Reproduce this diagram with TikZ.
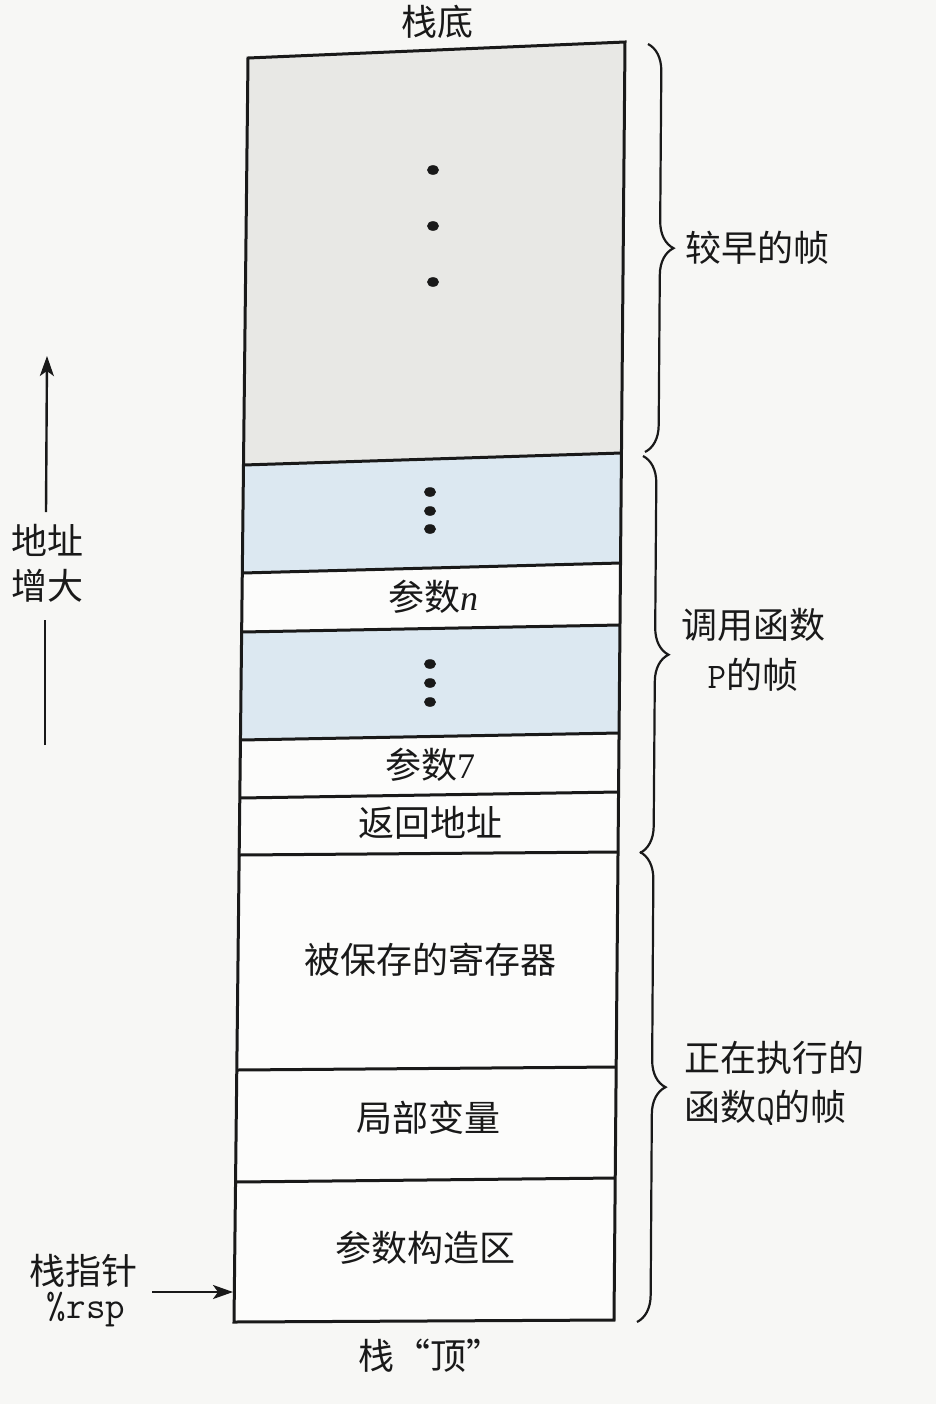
\documentclass[tikz,border=0pt]{standalone}
\usepackage{fontspec}
\setmainfont{Liberation Serif}
\newfontfamily\cjk{Noto Sans CJK SC}
\usetikzlibrary{decorations.pathreplacing,arrows.meta}
\definecolor{pagebg}{RGB}{247,247,245}
\definecolor{oldgray}{RGB}{232,232,229}
\definecolor{argblue}{RGB}{220,232,241}
\definecolor{cellwhite}{RGB}{252,252,251}
\definecolor{ink}{RGB}{25,25,25}
\begin{document}
\begin{tikzpicture}[x=0.5pt,y=-0.5pt,
  lbl/.style={font=\cjk\fontsize{18}{25}\selectfont, text=ink, inner sep=0pt},
  monolbl/.style={font=\ttfamily\fontsize{19}{22}\selectfont, text=ink, inner sep=0pt, text height=0.5em, text depth=0.2em},
  frameline/.style={draw=ink, line width=1.5pt},
  bracestyle/.style={draw=ink, line width=1.1pt, decorate, decoration={brace, amplitude=13.5pt}},
  dotmark/.style={fill=ink},
  arr/.style={draw=ink, line width=1.2pt},
]
\fill[pagebg] (0,0) rectangle (936,1404);
\useasboundingbox (0,0) rectangle (936,1404);

% corners of the dividers (left / right)
\coordinate (L0) at (248,58);    \coordinate (R0) at (625,42);
\coordinate (L1) at (243.5,465); \coordinate (R1) at (621.5,453);
\coordinate (L2) at (242.3,573); \coordinate (R2) at (620.5,563);
\coordinate (L3) at (241.6,632); \coordinate (R3) at (620,625);
\coordinate (L4) at (240.4,740); \coordinate (R4) at (619.1,733);
\coordinate (L5) at (239.8,798); \coordinate (R5) at (618.5,792);
\coordinate (L6) at (239.2,855); \coordinate (R6) at (618,852);
\coordinate (L7) at (236.8,1070);\coordinate (R7) at (616.2,1067);
\coordinate (L8) at (235.6,1182);\coordinate (R8) at (615.2,1178);
\coordinate (L9) at (234,1322);  \coordinate (R9) at (614,1320);

% fills
\fill[oldgray] (L0)--(R0)--(R1)--(L1)--cycle;
\fill[argblue] (L1)--(R1)--(R2)--(L2)--cycle;
\fill[cellwhite] (L2)--(R2)--(R3)--(L3)--cycle;
\fill[argblue] (L3)--(R3)--(R4)--(L4)--cycle;
\fill[cellwhite] (L4)--(R4)--(R9)--(L9)--cycle;

% outline and dividers
\draw[frameline, line join=miter] (L0)--(R0)--(R9)--(L9)--cycle;
\foreach \i in {1,...,8} { \draw[frameline] (L\i)--(R\i); }

% dots
\foreach \yy in {170,226,282} { \fill[dotmark] (433,\yy) ellipse [x radius=3pt, y radius=2.4pt]; }
\foreach \yy in {492,511,529} { \fill[dotmark] (430,\yy) ellipse [x radius=3pt, y radius=2.4pt]; }
\foreach \yy in {664,683,702} { \fill[dotmark] (430,\yy) ellipse [x radius=3pt, y radius=2.4pt]; }

% cell labels
\node[lbl] (bottomlbl) at (437,22) {栈底};
\node[lbl] (argn) at (433,597) {参数{\rmfamily\itshape n}};
\node[lbl] (arg7) at (430,765) {参数{\rmfamily 7}};
\node[lbl] (retaddr) at (430,823) {返回地址};
\node[lbl] (saved) at (430,960) {被保存的寄存器};
\node[lbl] (locals) at (428,1118) {局部变量};
\node[lbl] (argbuild) at (425,1248) {参数构造区};
\node[lbl] (toplbl) at (430,1356) {栈“顶”};

% braces
\draw[bracestyle] (648,44) -- (645,452);
\draw[bracestyle] (643,456) -- (640,853);
\draw[bracestyle] (640,852) -- (637,1322);

\node[lbl] (earlier) at (757,248) {较早的帧};
\node[lbl] (callerP1) at (753,625) {调用函数};
\node[lbl] (callerP2) at (753,675) {{\ttfamily P}的帧};
\node[lbl, anchor=west] (currentQ1) at (684,1058) {正在执行的};
\node[lbl, anchor=west] (currentQ2) at (684,1108) {函数{\ttfamily Q}的帧};

% address growth arrow
\node[lbl] (addr1) at (47,540) {地址};
\node[lbl] (addr2) at (47,586) {增大};
\coordinate (addrlow) at (45,745);
\coordinate (addrlowend) at (45,620);
\coordinate (addrupstart) at (46,512);
\coordinate (addrhead) at (47,356);
\draw[arr] (addrlow) -- (addrlowend);
\draw[arr, -{Stealth[length=10pt, width=7pt, inset=2.5pt]}] (addrupstart) -- (addrhead);

% stack pointer
\node[lbl, text height=0.62em, text depth=0.26em] (sp) at (84,1281) {栈指针};
\node[monolbl] (rsp) at (86,1315) {\%rsp};
\coordinate (sptail) at (152,1292);
\coordinate (sphead) at (233,1292);
\draw[arr, -{Stealth[length=10pt, width=7pt, inset=2.5pt]}] (sptail) -- (sphead);
\end{tikzpicture}
\end{document}
